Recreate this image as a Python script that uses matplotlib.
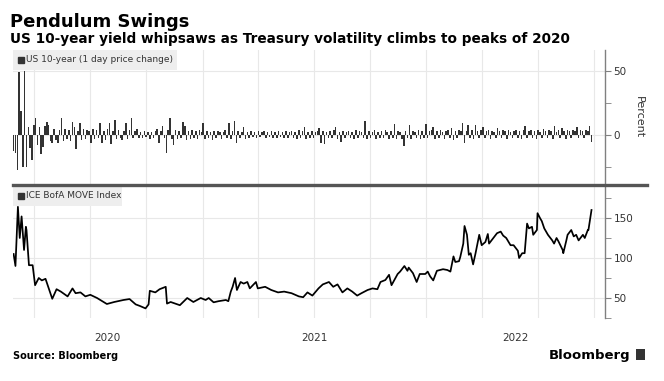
import pandas as pd
import matplotlib
matplotlib.use("Agg")
import matplotlib.pyplot as plt
from matplotlib.lines import Line2D
from matplotlib.patches import Rectangle

# US 10-year, 1 day price change (percent), one bar every third day
chg_start = "2020-02-28"
chg_vals = [
    -12, -14, -27, 49, 19, -25, 50, -25, 6, -10,
    -19, 8, 13, -8, 6, -15, -9, 7, 10, 8,
    -5, -6, 5, -4, -6, 4, 13.5, -5, 5, -3,
    4, -5, 10, 6.5, -11, 3, 9, -4, 5, -3,
    4, 3, -6, 5, -3, 4, -2, 9, -6, 3,
    -4, 5, 9, -7, 3, 11.7, -3, 4, -2, -4,
    3, 9, -3, 4, 13, -2, 3, 4.7, -2, 2,
    -2, 3, -1.5, 2, -3, 2, -2, 3, 4.7, -6,
    3, 7.3, -2, -14.3, 4, 13, -3, -7.8, 4, -3,
    3, -2, 10, 7.3, -4, 3, -3, 4, -2, 3,
    -3, 4, 2, 9, -3, 3, -2, 2, -4, 3,
    -2, 3, 2, -3, 2, 4, -2, 9, -3, 3,
    11, -6.5, 3, -2, 2, 6.5, -3, 2, -2, 3,
    -1.5, 2, -2, 3, -1.5, 2, 3, -2, 2, -1.5,
    3, -2, 2, -2.5, 3, -1.5, 2, -2, 3, -2,
    2, 3, -2, 2, -3, 4, -2, 3, 6.5, -3,
    2, -2, 3, -2.5, 2, 3, 5.7, -6.5, 3, -7.3,
    2, -2, 3, -2, 4, 6.5, -3, 2, -5.2, 3,
    -2, 2, 3, -2, 2, -3, 4, -2, 3, 2,
    -2, 11, -3, 3, -2, 2, 4, -3, 2, -2,
    3, -2, 4, 2, -3, 3, -2, 8.6, -3, 3,
    2, -3, -8.3, 3, -2, 7.8, -3, 3, 2, -2,
    4, -3, 3, -2, 8.6, -2, 3, 4, 6.5, -3,
    3, -2, 4, 2, -3, 3, 4, -2, 5.7, -4,
    3, -2, 4, 3, 9, -6.5, 3, 7.8, -2, 4,
    -3, 7.8, 3, -2, 4, 6.5, -2, 3, 4, -3,
    3, 2, -2, 5.7, 3, -2, 4, 3, -3, 4,
    2, -2, 3, 4, -2, 3, -3, 4, 7.3, -2,
    3, 4, -2, 3, -3, 4, 2, -2, 5, 3,
    -2, 4, 3, -3, 7.3, 2, 4, -2, 5.7, 3,
    -3, 4, 3, -2, 4, 3, 6.5, -2, 4, 3,
    -2, 4, 3, 7.3, -5.2,
]

# ICE BofA MOVE Index
move_dates = [
    "2020-02-28", "2020-03-02", "2020-03-06", "2020-03-09", "2020-03-12",
    "2020-03-16", "2020-03-19", "2020-03-20", "2020-03-24", "2020-03-30",
    "2020-04-03", "2020-04-09", "2020-04-14", "2020-04-20", "2020-05-01",
    "2020-05-08", "2020-05-15", "2020-05-26", "2020-06-03", "2020-06-08",
    "2020-06-16", "2020-06-24", "2020-07-02", "2020-07-13", "2020-07-29",
    "2020-08-10", "2020-08-25", "2020-09-04", "2020-09-14", "2020-09-21",
    "2020-09-30", "2020-10-05", "2020-10-07", "2020-10-16", "2020-10-23",
    "2020-11-02", "2020-11-04", "2020-11-10", "2020-11-25", "2020-12-07",
    "2020-12-17", "2020-12-29", "2021-01-06", "2021-01-11", "2021-01-19",
    "2021-01-27", "2021-02-08", "2021-02-12", "2021-02-16", "2021-02-19",
    "2021-02-23", "2021-02-26", "2021-03-04", "2021-03-09", "2021-03-15",
    "2021-03-19", "2021-03-29", "2021-04-01", "2021-04-13", "2021-04-23",
    "2021-05-04", "2021-05-14", "2021-05-26", "2021-06-07", "2021-06-14",
    "2021-06-21", "2021-06-29", "2021-07-09", "2021-07-16", "2021-07-26",
    "2021-08-02", "2021-08-09", "2021-08-17", "2021-08-25", "2021-09-02",
    "2021-09-10", "2021-09-17", "2021-09-27", "2021-10-05", "2021-10-13",
    "2021-10-18", "2021-10-26", "2021-11-01", "2021-11-05", "2021-11-15",
    "2021-11-19", "2021-11-26", "2021-12-01", "2021-12-03", "2021-12-10",
    "2021-12-16", "2021-12-21", "2021-12-30", "2022-01-03", "2022-01-07",
    "2022-01-12", "2022-01-18", "2022-01-28", "2022-02-04", "2022-02-09",
    "2022-02-14", "2022-02-17", "2022-02-23", "2022-02-25", "2022-03-02",
    "2022-03-04", "2022-03-08", "2022-03-11", "2022-03-14", "2022-03-18",
    "2022-03-22", "2022-03-28", "2022-04-01", "2022-04-07", "2022-04-11",
    "2022-04-13", "2022-04-20", "2022-04-26", "2022-05-02", "2022-05-06",
    "2022-05-11", "2022-05-18", "2022-05-23", "2022-05-30", "2022-06-01",
    "2022-06-06", "2022-06-10", "2022-06-14", "2022-06-17", "2022-06-22",
    "2022-06-24", "2022-06-30", "2022-07-01", "2022-07-05", "2022-07-08",
    "2022-07-12", "2022-07-18", "2022-07-25", "2022-07-28", "2022-08-01",
    "2022-08-04", "2022-08-11", "2022-08-12", "2022-08-17", "2022-08-19",
    "2022-08-25", "2022-08-29", "2022-09-02", "2022-09-06", "2022-09-13",
    "2022-09-16", "2022-09-21", "2022-09-22", "2022-09-27",
]
move_vals = [
    105, 90, 164, 125, 152, 110, 139, 135, 91, 91,
    66, 75, 72, 74, 49, 61, 58, 52, 62, 56,
    57, 52, 54, 50, 42.5, 45, 47.5, 48.7, 42, 40,
    37, 42, 59, 57, 61, 64, 43, 45, 41, 50,
    45, 50, 47.5, 50, 44.6, 46, 47.5, 46, 58, 64,
    75, 60, 70, 68, 70, 62, 70, 62, 64, 60,
    57, 58, 56, 52, 51, 57, 53, 62, 67, 70,
    64, 67, 57, 62, 58, 53, 56, 60, 62, 61,
    70, 72.5, 79, 66, 80, 83, 90, 84, 88, 81,
    70, 80, 80, 83, 77, 72, 84, 86, 85, 83,
    102, 95, 96, 101, 118, 140, 129, 104, 106, 92,
    106, 129, 116, 120, 130, 118, 125, 131, 133, 128,
    125, 116, 116, 109, 100, 106, 106, 143, 137, 139,
    129, 135, 156, 150, 146, 137, 129, 122, 118, 125,
    121, 110, 106, 122, 129, 135, 127, 129, 122, 129,
    125, 135, 135, 160,
]

years = ["2020", "2021", "2022"]

chg_dates = pd.date_range(chg_start, periods=len(chg_vals), freq="3D")
move_x = pd.to_datetime(move_dates)

W, H = 664, 381
plt.rcParams["font.family"] = "DejaVu Sans"
fig = plt.figure(figsize=(W / 100, H / 100), dpi=100)

def box(l, t, r, b):
    return [l / W, 1 - b / H, (r - l) / W, (b - t) / H]

ax1 = fig.add_axes(box(13, 50, 605, 184))
ax2 = fig.add_axes(box(13, 186, 605, 318))

xmin = pd.Timestamp("2020-02-27")
xmax = pd.Timestamp("2022-10-19")
quarters = pd.date_range("2020-04-01", "2022-10-01", freq="QS")

for ax in (ax1, ax2):
    ax.set_xlim(xmin, xmax)
    ax.set_xticks(quarters)
    ax.tick_params(axis="x", length=0, labelbottom=False)
    ax.yaxis.tick_right()
    for s in ("left", "top", "bottom"):
        ax.spines[s].set_visible(False)
    ax.spines["right"].set_color("#808080")
    ax.spines["right"].set_linewidth(1)
    ax.tick_params(axis="y", which="both", direction="out", length=4,
                   color="#808080", labelcolor="#333333", labelsize=7.5, pad=2)
    ax.grid(True, color="#e8e8e8", lw=0.8)
    ax.set_axisbelow(True)

ax1.bar(chg_dates, chg_vals, width=2.5, color="#333333", lw=0, zorder=2)
ax1.set_ylim(-38, 66)
ax1.set_yticks([0, 50])
ax1.set_yticks([-25, 25], minor=True)

ax2.plot(move_x, move_vals, color="black", lw=1.25, zorder=2)
ax2.set_ylim(25, 190)
ax2.set_yticks([50, 100, 150])
ax2.set_yticks([25, 75, 125, 175], minor=True)

# legend boxes
def legend(ax, label, w_px, h_px, ax_w_px, ax_h_px):
    ax.add_patch(Rectangle((0, 1 - h_px / ax_h_px), w_px / ax_w_px, h_px / ax_h_px,
                           transform=ax.transAxes, fc="#eeeeee", ec="none",
                           zorder=4, clip_on=False))
    yc = 1 - (h_px / 2) / ax_h_px
    ax.plot([8 / ax_w_px], [yc], marker="s", ms=4.5, color="#333333",
            transform=ax.transAxes, zorder=5, clip_on=False)
    ax.text(13 / ax_w_px, yc, label, transform=ax.transAxes, va="center",
            ha="left", fontsize=6.5, color="#333333", zorder=5)

legend(ax1, "US 10-year (1 day price change)", 164, 20, 592, 134)
legend(ax2, "ICE BofA MOVE Index", 109, 20, 592, 132)

# year labels centred in the visible part of each year
for y in years:
    a = max(pd.Timestamp(f"{y}-01-01"), xmin)
    b = min(pd.Timestamp(f"{int(y) + 1}-01-01"), xmax)
    mid = a + (b - a) / 2
    ax2.text(mid, -20 / 132, y, transform=ax2.get_xaxis_transform(),
             ha="center", va="center", fontsize=7.5, color="#333333")

# separator between the panels
fig.add_artist(Line2D([13 / W, 647 / W], [1 - 184.5 / H] * 2,
                      color="#555555", lw=2.4))

fig.text(639 / W, 1 - 117 / H, "Percent", rotation=270, ha="center",
         va="center", fontsize=8, color="#333333")

fig.text(10 / W, 1 - 27 / H, "Pendulum Swings", fontsize=13,
         weight="bold", va="baseline")
fig.text(10 / W, 1 - 43 / H,
         "US 10-year yield whipsaws as Treasury volatility climbs to peaks of 2020",
         fontsize=9.8, weight="bold", va="baseline")
fig.text(13 / W, 1 - 359 / H, "Source: Bloomberg", fontsize=7,
         weight="bold", va="baseline")
fig.text(630 / W, 1 - 359 / H, "Bloomberg", fontsize=9.5, weight="bold",
         ha="right", va="baseline")
fig.add_artist(Rectangle((636 / W, 1 - 360 / H), 9 / W, 11 / H,
                         transform=fig.transFigure, fc="#333333", ec="none"))

fig.savefig("out.png", dpi=100)
